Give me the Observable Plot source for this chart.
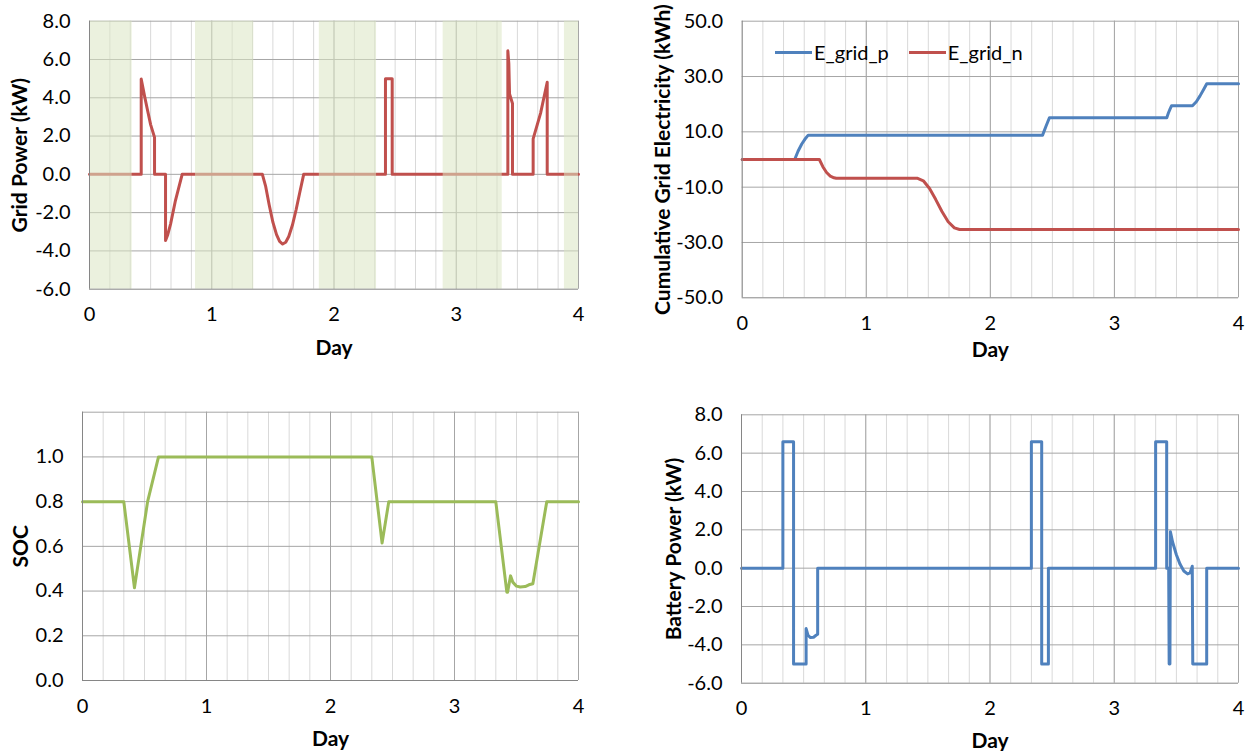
<!DOCTYPE html>
<html>
<head>
<meta charset="utf-8">
<script src="https://cdn.jsdelivr.net/npm/d3@7"></script>
<script src="https://cdn.jsdelivr.net/npm/@observablehq/plot@0.6"></script>
<style>
  html, body { margin: 0; padding: 0; background: #ffffff; }
  #wrap { position: relative; width: 1247px; height: 751px; overflow: hidden; font-family: Lato, "Open Sans", sans-serif; }
  .q { position: absolute; }
  .legend { position: absolute; display: flex; align-items: center; font-size: 20px; color: #000; white-space: nowrap; }
  .legend .sw { display: inline-block; width: 37px; height: 0; border-top: 3px solid; margin-right: 2px; }
  .legend .item { display: flex; align-items: center; margin-right: 20px; }
</style>
</head>
<body>
<div id="wrap">
  <div class="q" id="tl" style="left:0;top:0;width:620px;height:375px;"></div>
  <div class="q" id="tr" style="left:620px;top:0;width:627px;height:375px;"></div>
  <div class="q" id="bl" style="left:0;top:375px;width:620px;height:376px;"></div>
  <div class="q" id="br" style="left:620px;top:375px;width:627px;height:376px;"></div>
</div>
<script>
// ---------- data ----------
const dayTicks = [0, 1, 2, 3, 4];
const xTitle = "Day";

// Grid power (kW)
const gridDay = [0,0.423,0.423,0.45,0.473,0.5,0.532,0.532,0.622,0.622,0.64,0.663,0.703,0.758,1.414,1.44,1.47,1.5,1.53,1.555,1.58,1.605,1.63,1.66,1.69,1.72,1.752,2.421,2.421,2.476,2.476,3.422,3.422,3.43,3.436,3.46,3.46,3.629,3.629,3.69,3.744,3.744,4];
const gridKW  = [0,0,4.98,4.1,3.4,2.6,1.93,0,0,-3.46,-3.15,-2.6,-1.37,0,0,-0.6,-1.6,-2.5,-3.15,-3.5,-3.64,-3.55,-3.25,-2.65,-1.85,-0.95,0,0,5.0,5.0,0,0,6.45,5.8,4.2,3.7,0,0,1.85,3.2,4.81,0,0];
const gridTicks = [-6, -4, -2, 0, 2, 4, 6, 8];
const gridTitle = "Grid Power (kW)";
// shaded periods (day start / end)
const bandStart = [0, 0.867, 1.88, 2.893, 3.885];
const bandEnd   = [0.349, 1.344, 2.348, 3.376, 4];

// Cumulative grid electricity (kWh)
const cumNames = ["E_grid_p", "E_grid_n"];
const cumPDay = [0,0.423,0.45,0.48,0.505,0.532,2.421,2.45,2.476,3.422,3.435,3.448,3.46,3.629,3.66,3.69,3.72,3.744,4];
const cumP    = [0,0,3.0,5.6,7.3,8.8,8.8,12.2,15.1,15.1,16.8,18.2,19.4,19.4,20.9,23.0,25.4,27.4,27.4];
const cumNDay = [0,0.622,0.65,0.68,0.71,0.74,0.758,1.414,1.46,1.51,1.56,1.61,1.66,1.71,1.752,4];
const cumN    = [0,0,-2.6,-4.7,-6.0,-6.6,-6.8,-6.8,-7.7,-10.5,-14.5,-18.8,-22.5,-24.7,-25.3,-25.3];
const cumTicks = [-50, -30, -10, 10, 30, 50];
const cumTitle = "Cumulative Grid Electricity (kWh)";

// State of charge
const socDay = [0,0.333,0.419,0.525,0.613,2.333,2.416,2.47,3.333,3.422,3.428,3.452,3.47,3.5,3.53,3.57,3.6,3.632,3.744,4];
const soc    = [0.8,0.8,0.415,0.8,1.0,1.0,0.615,0.8,0.8,0.395,0.395,0.468,0.44,0.422,0.418,0.42,0.428,0.433,0.8,0.8];
const socTicks = [0, 0.2, 0.4, 0.6, 0.8, 1.0];
const socTitle = "SOC";

// Battery power (kW)
const batDay = [0,0.333,0.333,0.419,0.419,0.52,0.52,0.535,0.555,0.58,0.6,0.613,0.613,2.333,2.333,2.416,2.416,2.47,2.47,3.333,3.333,3.422,3.422,3.438,3.442,3.448,3.452,3.47,3.5,3.53,3.56,3.59,3.61,3.628,3.632,3.744,3.744,4];
const batKW  = [0,0,6.6,6.6,-5,-5,-3.15,-3.5,-3.62,-3.6,-3.5,-3.45,0,0,6.6,6.6,-5,-5,0,0,6.6,6.6,0,0,-5,-5,1.9,1.35,0.7,0.2,-0.15,-0.3,-0.25,0.1,-5,-5,0,0];
const batTicks = [-6, -4, -2, 0, 2, 4, 6, 8];
const batTitle = "Battery Power (kW)";

// ---------- styles ----------
const RED = "#c0504d", BLUE = "#4f81bd", GREEN = "#9bbb59";
const GRID_H = "#a6a6a6", GRID_MINOR = "#d9d9d9", GRID_MAJOR = "#a6a6a6", AXIS = "#868686";
const TICK_FS = 20, YTITLE_FS = 21, XTITLE_FS = 21;

const pts = (xs, ys) => xs.map((x, i) => ({x, y: ys[i]}));
const minorDays = d3.range(0, 4.0001, 1 / 6);

function chart(el, cfg) {
  const marks = [
    Plot.ruleX(minorDays, {stroke: GRID_MINOR, strokeWidth: 1}),
    Plot.ruleX(dayTicks.slice(1), {stroke: GRID_MAJOR, strokeWidth: 1}),
    Plot.ruleY(cfg.yTicks.slice(1), {stroke: GRID_H, strokeWidth: 1}),
    ...(cfg.yTop !== undefined ? [Plot.ruleY([cfg.yTop], {stroke: GRID_H, strokeWidth: 1})] : []),
    ...cfg.series,
    ...(cfg.after || []),
    Plot.ruleX([0], {stroke: AXIS, strokeWidth: 1}),
    Plot.ruleY([cfg.yDomain[0]], {stroke: AXIS, strokeWidth: 1}),
    Plot.axisX(dayTicks, {tickSize: 0, tickPadding: 18, tickFormat: d => String(d), label: null, fontSize: TICK_FS}),
    Plot.axisY(cfg.yTicks, {tickSize: 0, tickPadding: 19, tickFormat: d => d.toFixed(1), label: null, fontSize: TICK_FS}),
    Plot.text([cfg.yTitle], {text: d => d, frameAnchor: "left", textAnchor: "middle", lineAnchor: "middle", rotate: -90, dx: cfg.titleDx, fontWeight: "bold", fontSize: YTITLE_FS}),
    Plot.text([xTitle], {text: d => d, frameAnchor: "bottom", textAnchor: "middle", lineAnchor: "middle", dy: cfg.xTitleDy, fontWeight: "bold", fontSize: XTITLE_FS})
  ];
  const svg = Plot.plot({
    width: cfg.w, height: cfg.h,
    marginLeft: cfg.ml, marginRight: cfg.mr, marginTop: cfg.mt, marginBottom: cfg.mb,
    style: {fontFamily: "Lato, 'Open Sans', sans-serif", fontSize: TICK_FS + "px", color: "#000", background: "transparent", overflow: "visible"},
    x: {domain: [0, 4]},
    y: {domain: cfg.yDomain},
    marks
  });
  document.getElementById(el).appendChild(svg);
}

// Top-left: grid power with shaded bands
const bands = bandStart.map((s, i) => ({s, e: bandEnd[i]}));
chart("tl", {
  w: 620, h: 375, ml: 89, mr: 42, mt: 20.7, mb: 86.3,
  yDomain: [-6, 8], yTicks: gridTicks, yTitle: gridTitle, titleDx: -69, xTitleDy: 59,
  series: [Plot.line(pts(gridDay, gridKW), {x: "x", y: "y", stroke: RED, strokeWidth: 3, strokeLinejoin: "round"})],
  after: [Plot.rect(bands, {x1: "s", x2: "e", fill: "#dbe6c3", fillOpacity: 0.55})]
});

// Top-right: cumulative grid electricity
chart("tr", {
  w: 627, h: 375, ml: 121.7, mr: 9, mt: 20.7, mb: 77.7,
  yDomain: [-50, 50], yTicks: cumTicks, yTitle: cumTitle, titleDx: -79, xTitleDy: 52,
  series: [
    Plot.line(pts(cumPDay, cumP), {x: "x", y: "y", stroke: BLUE, strokeWidth: 3, strokeLinejoin: "round"}),
    Plot.line(pts(cumNDay, cumN), {x: "x", y: "y", stroke: RED, strokeWidth: 3, strokeLinejoin: "round"})
  ]
});

// Bottom-left: SOC
chart("bl", {
  w: 620, h: 376, ml: 82, mr: 42, mt: 36.7, mb: 71,
  yDomain: [0, 1.2], yTicks: socTicks, yTop: 1.2, yTitle: socTitle, titleDx: -61, xTitleDy: 59,
  series: [Plot.line(pts(socDay, soc), {x: "x", y: "y", stroke: GREEN, strokeWidth: 3, strokeLinejoin: "round"})]
});

// Bottom-right: battery power
chart("br", {
  w: 627, h: 376, ml: 121, mr: 9, mt: 39.3, mb: 68.3,
  yDomain: [-6, 8], yTicks: batTicks, yTitle: batTitle, titleDx: -67, xTitleDy: 58,
  series: [Plot.line(pts(batDay, batKW), {x: "x", y: "y", stroke: BLUE, strokeWidth: 3, strokeLinejoin: "round"})]
});

// Legend inside the top-right plot
const lg = document.createElement("div");
lg.className = "legend";
lg.style.left = "155px";
lg.style.top = "40px";
const legColors = [BLUE, RED];
cumNames.forEach((n, i) => {
  const it = document.createElement("span");
  it.className = "item";
  const sw = document.createElement("span");
  sw.className = "sw";
  sw.style.borderTopColor = legColors[i];
  const tx = document.createElement("span");
  tx.textContent = n;
  it.appendChild(sw); it.appendChild(tx);
  lg.appendChild(it);
});
document.getElementById("tr").appendChild(lg);
</script>
</body>
</html>
